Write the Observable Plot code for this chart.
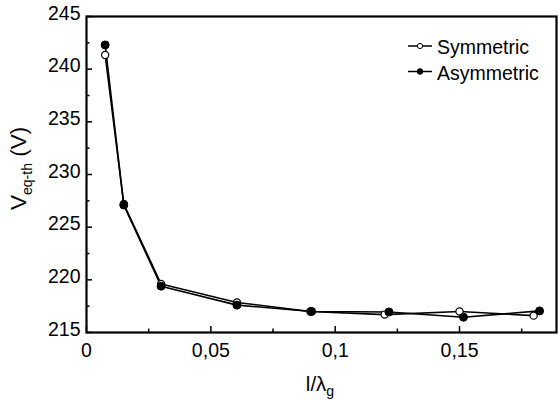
<!DOCTYPE html>
<html><head><meta charset="utf-8">
<script src="https://cdn.jsdelivr.net/npm/d3@7"></script>
<script src="https://cdn.jsdelivr.net/npm/@observablehq/plot@0.6"></script>
<style>body{margin:0;background:#fff}#chart{width:558px;height:400px}</style>
</head><body><div id="chart"></div>
<script>
const seriesNames = ["Symmetric", "Asymmetric"];
const symX  = [0.0075, 0.015, 0.030, 0.0605, 0.090, 0.1199, 0.150, 0.1798];
const symY  = [241.35, 227.2, 219.6, 217.85, 217.0, 216.7, 217.0, 216.6];
const asymX = [0.0075, 0.015, 0.030, 0.0605, 0.0905, 0.1216, 0.1516, 0.1822];
const asymY = [242.3, 227.1, 219.4, 217.6, 217.0, 216.95, 216.45, 217.05];
const xTicks = [0, 0.05, 0.1, 0.15];
const xMinor = [0.025, 0.075, 0.125, 0.175];
const yTicks = [215, 220, 225, 230, 235, 240, 245];
const yMinor = [217.5, 222.5, 227.5, 232.5, 237.5, 242.5];

const sym = symX.map((x, i) => ({x, y: symY[i], s: seriesNames[0]}));
const asym = asymX.map((x, i) => ({x, y: asymY[i], s: seriesNames[1]}));
const fmt = d => d === 0 ? "0" : String(d).replace(".", ",");
const FONT = "'Liberation Sans', Arial, Helvetica, sans-serif";

const plot = Plot.plot({
  width: 558, height: 400,
  marginTop: 16, marginRight: 2, marginBottom: 68, marginLeft: 86,
  style: {fontFamily: FONT, fontSize: "19.5px", color: "black", background: "white"},
  x: {domain: [0, 0.189]},
  y: {domain: [215, 245]},
  marks: [
    Plot.axisX({ticks: xTicks, tickSize: 6, dy: -6, tickFormat: () => "", label: null, strokeWidth: 1.5}),
    Plot.axisX({ticks: xMinor, tickSize: 3.5, dy: -3.5, tickFormat: () => "", label: null, strokeWidth: 1.5}),
    Plot.axisX({ticks: xTicks, tickSize: 0, tickPadding: 11, tickFormat: fmt, label: null, fontSize: 19.5}),
    Plot.axisY({ticks: yTicks, tickSize: 6, dx: 6, tickFormat: () => "", label: null, strokeWidth: 1.5}),
    Plot.axisY({ticks: yMinor, tickSize: 3.5, dx: 3.5, tickFormat: () => "", label: null, strokeWidth: 1.5}),
    Plot.axisY({ticks: yTicks, tickSize: 0, tickPadding: 6, tickFormat: d => String(d), label: null, dy: -3, fontSize: 19.5}),
    Plot.line(sym, {x: "x", y: "y", stroke: "black", strokeWidth: 1.6}),
    Plot.line(asym, {x: "x", y: "y", stroke: "black", strokeWidth: 1.6}),
    Plot.dot(sym, {x: "x", y: "y", r: 3.6, fill: "white", stroke: "black", strokeWidth: 1.2}),
    Plot.dot(asym, {x: "x", y: "y", r: 4, fill: "black", stroke: "black", strokeWidth: 1}),
    Plot.frame({stroke: "black", strokeWidth: 2.2})
  ]
});
document.getElementById("chart").append(plot);

const svg = d3.select(plot);
// y-axis label
const yl = svg.append("text")
  .attr("transform", "translate(26,210) rotate(-90)").attr("text-anchor", "start")
  .attr("font-family", FONT).attr("font-size", 22.5).attr("fill", "black");
yl.append("tspan").text("V");
yl.append("tspan").attr("font-size", 14).attr("dy", 6).text("eq-th");
yl.append("tspan").attr("dy", -6).text(" (V)");
// x-axis label
const xl = svg.append("text")
  .attr("x", 320).attr("y", 391).attr("text-anchor", "middle")
  .attr("font-family", FONT).attr("font-size", 20.5).attr("fill", "black");
xl.append("tspan").text("l/λ");
xl.append("tspan").attr("font-size", 14).attr("dy", 5).text("g");
// legend
const legend = [{name: seriesNames[0], fill: "white", r: 2.6}, {name: seriesNames[1], fill: "black", r: 2.8}];
legend.forEach((d, i) => {
  const cy = 46 + i * 25.5;
  svg.append("line").attr("x1", 408).attr("x2", 432).attr("y1", cy).attr("y2", cy)
    .attr("stroke", "black").attr("stroke-width", 1.5);
  svg.append("circle").attr("cx", 420).attr("cy", cy).attr("r", d.r)
    .attr("fill", d.fill).attr("stroke", "black").attr("stroke-width", 1);
  svg.append("text").attr("x", 437).attr("y", cy + 8).attr("text-anchor", "start").attr("font-family", FONT)
    .attr("font-size", 19.5).attr("fill", "black").text(d.name);
});
</script>
</body></html>
